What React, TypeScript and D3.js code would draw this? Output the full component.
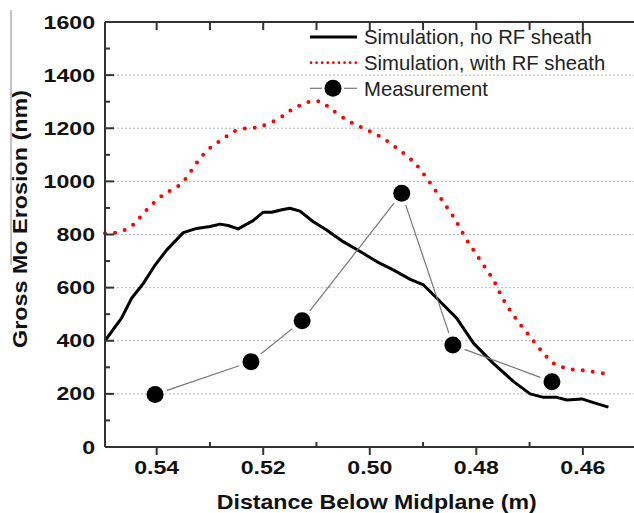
import React from "react";
import * as d3 from "d3";

const noRfX = [0.5497,0.5466,0.5447,0.5425,0.5403,0.5381,0.5350,0.5325,0.5300,0.5281,0.5266,0.5247,0.5219,0.5200,0.5184,0.5165,0.5150,0.5131,0.5106,0.5081,0.5050,0.5018,0.4987,0.4956,0.4924,0.4899,0.4874,0.4837,0.4805,0.4768,0.4730,0.4699,0.4674,0.4649,0.4630,0.4602,0.4577,0.4552];
const noRfY = [400,485,560,616,685,742,807,823,830,839,834,821,852,884,884,893,899,888,848,817,773,736,698,667,631,610,560,485,390,315,246,200,187,187,177,181,165,150];

const rfX = [0.5497,0.5475,0.5456,0.5441,0.5425,0.5406,0.5388,0.5372,0.5353,0.5334,0.5316,0.5297,0.5278,0.5256,0.5231,0.5212,0.5193,0.5168,0.5147,0.5125,0.5106,0.5090,0.5075,0.5043,0.5012,0.4981,0.4949,0.4918,0.4893,0.4868,0.4843,0.4818,0.4793,0.4768,0.4749,0.4724,0.4699,0.4674,0.4655,0.4630,0.4593,0.4552];
const rfY = [805,808,821,842,880,918,949,968,993,1043,1093,1131,1156,1187,1200,1203,1215,1240,1269,1292,1303,1298,1276,1231,1200,1169,1125,1074,1012,940,867,780,704,629,554,478,415,353,315,296,287,274];

const measX = [0.5403,0.5223,0.5127,0.4940,0.4844,0.4658];
const measY = [198,321,475,955,384,246];

const xMajor = [0.54,0.52,0.50,0.48,0.46];
const xMinor = [0.55,0.54,0.53,0.52,0.51,0.50,0.49,0.48,0.47,0.46];
const yMajor = [0,200,400,600,800,1000,1200,1400,1600];
const yMinor = [100,300,500,700,900,1100,1300,1500];

const legendLabels = ["Simulation, no RF sheath","Simulation, with RF sheath","Measurement"];

export default function App() {
  const W = 634, H = 513;
  const L = 105, R = 634, T = 22, B = 447;
  const x = d3.scaleLinear().domain([0.5497, 0.4504]).range([L, R]);
  const y = d3.scaleLinear().domain([0, 1600]).range([B, T]);

  const lineNoRf = d3.line<number>().x((_, i) => x(noRfX[i])).y((d) => y(d))(noRfY) || "";
  const lineRf = d3.line<number>().x((_, i) => x(rfX[i])).y((d) => y(d)).curve(d3.curveCatmullRom)(rfY) || "";

  const r = 8.5;
  const pts = measX.map((v, i) => [x(v), y(measY[i])]);
  const segs: [number, number, number, number][] = [];
  for (let i = 0; i < pts.length - 1; i++) {
    const [x1, y1] = pts[i];
    const [x2, y2] = pts[i + 1];
    const dx = x2 - x1, dy = y2 - y1;
    const len = Math.hypot(dx, dy);
    const g = r + 4;
    segs.push([x1 + (dx * g) / len, y1 + (dy * g) / len, x2 - (dx * g) / len, y2 - (dy * g) / len]);
  }

  const bold = { fontFamily: "'Liberation Sans', Arial, sans-serif", fontWeight: 700 as const };
  const axisColor = "#333";

  return (
    <svg width={W} height={H} style={{ position: "absolute", left: 0, top: 0, background: "#fff" }}>
      <rect x={0} y={0} width={W} height={H} fill="#fff" />
      <line x1={11} y1={10} x2={11} y2={265} stroke="#888" strokeWidth={1} />

      {/* gridlines */}
      {yMajor.filter((v) => v > 0 && v < 1600).map((v) => (
        <line key={"g" + v} x1={L} x2={R} y1={y(v)} y2={y(v)} stroke="#bbb" strokeWidth={1} strokeDasharray="2,2" />
      ))}

      {/* curves */}
      <path d={lineRf} fill="none" stroke="#ff0000" strokeWidth={4} strokeLinecap="round" strokeDasharray="0,10" />
      <path d={lineNoRf} fill="none" stroke="#000" strokeWidth={3} strokeLinejoin="round" />

      {segs.map((s, i) => (
        <line key={"s" + i} x1={s[0]} y1={s[1]} x2={s[2]} y2={s[3]} stroke="#777" strokeWidth={1.2} />
      ))}
      {pts.map((p, i) => (
        <circle key={"c" + i} cx={p[0]} cy={p[1]} r={r} fill="#000" />
      ))}

      {/* axes */}
      <line x1={L} x2={L} y1={T} y2={B} stroke={axisColor} strokeWidth={2} />
      <line x1={L} x2={R} y1={B} y2={B} stroke={axisColor} strokeWidth={2} />
      <line x1={L} x2={R} y1={T} y2={T} stroke={axisColor} strokeWidth={2} />

      {yMajor.map((v) => (
        <line key={"ym" + v} x1={L} x2={L + 9} y1={y(v)} y2={y(v)} stroke={axisColor} strokeWidth={2} />
      ))}
      {yMinor.map((v) => (
        <line key={"yn" + v} x1={L} x2={L + 5} y1={y(v)} y2={y(v)} stroke={axisColor} strokeWidth={2} />
      ))}
      {xMinor.filter((v) => x(v) > L + 2).map((v) => {
        const isMajor = xMajor.some((m) => Math.abs(m - v) < 1e-6);
        return (
          <g key={"xt" + v}>
            <line x1={x(v)} x2={x(v)} y1={T} y2={T + 8} stroke={axisColor} strokeWidth={2} />
            {isMajor ? (
              <line x1={x(v)} x2={x(v)} y1={B} y2={B + 8} stroke={axisColor} strokeWidth={2} />
            ) : (
              <line x1={x(v)} x2={x(v)} y1={B} y2={B - 5} stroke={axisColor} strokeWidth={2} />
            )}
          </g>
        );
      })}

      {/* tick labels */}
      {yMajor.map((v) => (
        <text key={"yl" + v} transform={`translate(95,${y(v) + 6.6}) scale(1.25,1)`} textAnchor="end" fontSize={18.5} fill="#111" style={bold}>
          {v}
        </text>
      ))}
      {xMajor.map((v) => (
        <text key={"xl" + v} transform={`translate(${x(v)},474) scale(1.25,1)`} textAnchor="middle" fontSize={18.5} fill="#111" style={bold}>
          {v.toFixed(2)}
        </text>
      ))}

      <text transform="translate(376.7,508.5) scale(1.157,1)" textAnchor="middle" fontSize={20} fill="#111" style={bold}>
        Distance Below Midplane (m)
      </text>
      <text transform="translate(26.5,219) rotate(-90) scale(1.197,1)" textAnchor="middle" fontSize={19.5} fill="#111" style={bold}>
        Gross Mo Erosion (nm)
      </text>

      {/* legend */}
      <line x1={310} x2={357} y1={37} y2={37} stroke="#000" strokeWidth={3} />
      <line x1={311} x2={357} y1={62.7} y2={62.7} stroke="#ff0000" strokeWidth={2.8} strokeLinecap="round" strokeDasharray="0,5.6" />
      <line x1={310} x2={322} y1={88.3} y2={88.3} stroke="#777" strokeWidth={1.2} />
      <line x1={344} x2={357} y1={88.3} y2={88.3} stroke="#777" strokeWidth={1.2} />
      <circle cx={333} cy={88.3} r={8.5} fill="#000" />
      {legendLabels.map((t, i) => (
        <text key={t} x={364} y={44 + i * 26} fontSize={20.3} fill="#222" style={{ fontFamily: "'Liberation Sans', Arial, sans-serif" }}>
          {t}
        </text>
      ))}
    </svg>
  );
}
